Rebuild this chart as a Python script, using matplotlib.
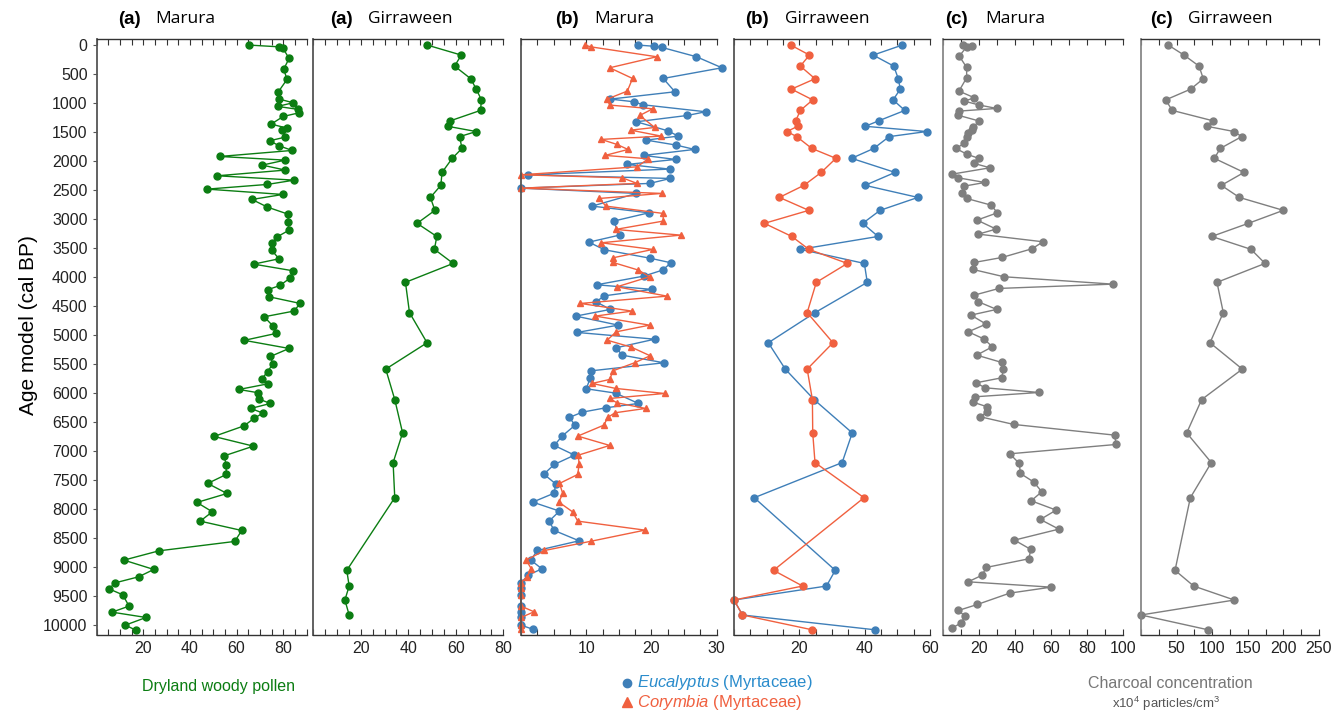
import matplotlib
matplotlib.use("Agg")
import matplotlib.pyplot as plt
from matplotlib.lines import Line2D

plt.rcParams['font.family'] = ['Liberation Sans', 'DejaVu Sans']
plt.rcParams['mathtext.fontset'] = 'custom'
plt.rcParams['mathtext.it'] = 'Liberation Sans:italic'
plt.rcParams['mathtext.rm'] = 'Liberation Sans'

# ---- data (age in cal BP) ----
# (a) Marura dryland woody pollen
mar_pollen_age = [0, 30, 50, 230, 414, 592, 810, 931, 994, 1057, 1109, 1167, 1230, 1362, 1431, 1466,
                  1586, 1649, 1736, 1816, 1920, 1983, 2069, 2155, 2253, 2328, 2402, 2483, 2575, 2661,
                  2793, 2914, 3046, 3195, 3310, 3408, 3540, 3684, 3776, 3891, 4017, 4144, 4218, 4339,
                  4454, 4586, 4684, 4839, 4971, 5090, 5230, 5368, 5494, 5632, 5753, 5839, 5937, 5994,
                  6103, 6178, 6264, 6345, 6431, 6564, 6747, 6914, 7081, 7236, 7402, 7557, 7730, 7885,
                  8046, 8207, 8368, 8557, 8719, 8879, 9040, 9167, 9270, 9374, 9477, 9672, 9776, 9868,
                  10000, 10086]
mar_pollen = [65.5, 78.3, 79.8, 82.5, 80.2, 81.6, 77.8, 78.3, 84.2, 77.6, 86.5, 86.8, 80.0, 74.8, 81.6,
              79.6, 80.9, 74.2, 78.2, 83.8, 52.8, 80.8, 71.0, 80.9, 51.7, 84.7, 73.2, 47.4, 79.8, 66.6,
              73.2, 82.0, 82.2, 82.3, 77.2, 75.3, 75.1, 78.2, 67.3, 84.2, 82.9, 78.6, 73.3, 73.9, 87.3,
              84.5, 71.8, 75.5, 76.9, 63.3, 82.5, 74.5, 75.5, 73.3, 70.8, 73.5, 61.0, 69.3, 69.6, 74.5,
              66.1, 71.3, 67.6, 63.2, 50.3, 67.2, 54.7, 55.5, 55.6, 47.6, 55.9, 43.0, 49.6, 44.4, 62.2,
              59.2, 26.7, 11.7, 24.5, 18.0, 8.0, 5.3, 11.2, 13.9, 6.6, 21.2, 12.3, 16.8]

# Girraween sample ages (shared by the three Girraween panels)
gir_age = [0, 172, 362, 580, 759, 945, 1126, 1305, 1400, 1490, 1578, 1781, 1952, 2195, 2418, 2626,
           2849, 3073, 3299, 3521, 3764, 4090, 4612, 5132, 5586, 6111, 6686, 7198, 7803, 9055, 9326,
           9567, 9825, 10080]
gir_pollen = [48.0, 62.3, 59.5, 66.3, 68.6, 70.8, 70.4, 57.7, 56.6, 68.6, 61.6, 62.6, 58.5, 54.2, 53.7,
              49.3, 51.2, 43.7, 52.0, 51.0, 58.9, 38.8, 40.5, 47.9, 30.5, 34.3, 37.6, 33.6, 34.3, 14.1,
              15.1, 13.3, 15.1]

# (b) Marura Eucalyptus / Corymbia
mar_euc_age = [0, 20, 40, 201, 391, 575, 805, 931, 977, 1029, 1149, 1213, 1322, 1477, 1569, 1638, 1724,
               1799, 1902, 1971, 2057, 2138, 2236, 2299, 2385, 2466, 2557, 2776, 2891, 3034, 3276, 3397,
               3529, 3672, 3753, 3879, 3983, 4132, 4212, 4322, 4425, 4557, 4672, 4828, 4954, 5070, 5218,
               5345, 5477, 5615, 5747, 5925, 6000, 6178, 6253, 6328, 6420, 6552, 6741, 6902, 7069, 7230,
               7397, 7563, 7724, 7879, 8034, 8207, 8368, 8546, 8713, 8879, 9029, 9138, 9270, 9368, 9483,
               9672, 9770, 9868, 10000, 10074]
mar_euc = [18.0, 20.4, 21.6, 26.9, 30.8, 21.8, 23.6, 13.7, 17.3, 18.7, 28.3, 25.5, 17.7, 22.5, 24.1, 19.2,
           23.8, 26.6, 18.8, 23.7, 16.3, 22.8, 1.0, 22.9, 19.7, 0.0, 17.7, 10.9, 19.6, 14.2, 15.1, 10.4,
           12.8, 19.7, 23.0, 21.7, 18.8, 11.6, 20.1, 12.8, 11.5, 13.7, 8.4, 14.9, 8.6, 20.5, 14.6, 15.5,
           21.9, 10.8, 10.6, 10.0, 14.5, 18.0, 13.0, 9.4, 7.4, 8.3, 6.3, 5.1, 8.2, 5.1, 3.5, 5.3, 5.1,
           1.8, 5.9, 4.3, 5.1, 8.9, 2.5, 1.5, 3.2, 1.1, 0, 0, 0, 0, 0, 0, 0, 1.9]
mar_cor_age = [0, 30, 201, 391, 575, 793, 931, 1034, 1098, 1213, 1420, 1466, 1569, 1626, 1712, 1799,
               1902, 1960, 2098, 2236, 2287, 2385, 2466, 2557, 2644, 2776, 2902, 3034, 3178, 3276, 3408,
               3523, 3667, 3747, 3879, 3994, 4167, 4328, 4454, 4586, 4672, 4828, 4943, 5087, 5207, 5356,
               5477, 5615, 5764, 5833, 5919, 6006, 6092, 6167, 6264, 6339, 6420, 6552, 6741, 6902, 7069,
               7230, 7402, 7557, 7730, 7879, 8046, 8207, 8362, 8552, 8713, 8879, 9034, 9167, 9270, 9368,
               9483, 9672, 9770, 9868, 10000, 10074]
mar_cor = [9.8, 10.7, 20.8, 13.6, 17.1, 16.3, 13.2, 13.6, 20.2, 18.2, 20.5, 16.8, 21.5, 12.3, 14.7, 16.4,
           12.9, 19.5, 17.8, 0.0, 15.5, 17.8, 0.0, 21.6, 12.0, 13.0, 21.8, 21.8, 14.5, 24.5, 12.3, 20.2,
           14.1, 14.1, 18.0, 19.7, 14.7, 22.4, 9.1, 17.0, 11.4, 19.7, 14.6, 13.2, 16.9, 19.8, 17.4, 14.1,
           13.6, 10.9, 14.5, 22.0, 13.6, 14.7, 19.1, 14.4, 13.3, 12.7, 8.7, 13.6, 8.8, 8.9, 8.7, 5.9, 6.4,
           5.8, 7.9, 8.7, 19.0, 10.8, 3.6, 0.8, 1.6, 0.9, 0, 0, 0, 0, 2.0, 0, 0, 0]

# (b) Girraween Eucalyptus / Corymbia
gir_euc = [51.5, 42.6, 48.9, 50.3, 50.9, 48.7, 52.3, 44.3, 40.2, 59.0, 47.5, 42.8, 36.0, 49.3, 40.1, 56.3,
           44.7, 39.4, 44.1, 20.3, 39.9, 40.8, 24.8, 10.5, 15.7, 24.5, 36.2, 33.1, 6.2, 31.0, 28.3, 0.0,
           2.6, 43.1]
gir_cor = [17.4, 23.1, 20.3, 24.8, 17.6, 24.1, 20.3, 18.9, 19.5, 16.2, 19.2, 23.8, 31.2, 26.7, 21.4, 13.9,
           22.9, 9.3, 17.7, 22.9, 34.7, 25.2, 22.4, 30.3, 22.4, 24.0, 24.1, 24.8, 39.8, 12.1, 21.0, 0.0,
           2.6, 23.9]

# (c) charcoal concentration (x10^4 particles/cm3)
mar_char_age = [0, 15, 30, 190, 385, 563, 793, 908, 966, 1034, 1092, 1138, 1207, 1310, 1408, 1466, 1523,
                1580, 1695, 1781, 1885, 1954, 2040, 2115, 2224, 2287, 2368, 2431, 2557, 2644, 2759, 2891,
                3017, 3172, 3259, 3391, 3511, 3661, 3747, 3868, 3994, 4121, 4195, 4310, 4425, 4557, 4655,
                4810, 4943, 5066, 5201, 5345, 5471, 5592, 5736, 5822, 5908, 5989, 6063, 6155, 6236, 6322,
                6408, 6540, 6724, 6885, 7046, 7213, 7385, 7534, 7701, 7856, 8017, 8178, 8345, 8534, 8695,
                8856, 9006, 9138, 9253, 9345, 9448, 9644, 9747, 9845, 9960, 10052]
mar_char = [11, 16, 13, 8.9, 13.0, 13.0, 8.7, 17.3, 11.7, 20.1, 29.7, 8.7, 8.0, 20.1, 16.7, 15.8, 13.9,
            13.0, 11.7, 6.9, 13.4, 19.9, 17.1, 26.0, 5.0, 8.0, 23.2, 11.7, 10.4, 13.0, 26.6, 30.1, 18.8,
            29.4, 19.5, 55.5, 49.4, 32.7, 17.3, 16.5, 33.8, 94.4, 31.0, 17.3, 19.5, 29.7, 15.4, 23.8,
            13.9, 22.6, 27.3, 18.6, 32.5, 33.4, 32.5, 18.2, 23.2, 53.3, 17.7, 16.4, 24.5, 24.5, 20.6,
            39.2, 95.3, 96.2, 37.0, 42.3, 42.9, 50.4, 54.8, 48.9, 62.8, 54.0, 64.3, 39.6, 48.7, 47.6,
            23.8, 21.7, 13.8, 60.0, 37.0, 18.9, 8.4, 12.1, 10.0, 4.8]
gir_char = [38.4, 60.4, 81.5, 87.5, 69.8, 34.6, 44.0, 101.1, 92.7, 130.6, 141.4, 111.4, 103.0, 144.7, 112.8,
            138.1, 199.9, 150.7, 99.3, 154.5, 174.2, 106.7, 115.6, 96.9, 142.3, 85.2, 64.2, 98.8, 69.3,
            47.8, 74.0, 131.1, 0.0, 94.1]

age_ticks = list(range(0, 10001, 500))

green = '#0b7d12'
blue = '#3f7fb8'
orange = '#f0603f'
grey = '#7f7f7f'

W, H = 1343, 712
fig = plt.figure(figsize=(W / 100, H / 100), dpi=100)

y_top, y_bot = 39.3, 635.0


def make_ax(x0, x1, xmax, tick_step, labels, spine_col):
    ax = fig.add_axes([x0 / W, 1 - y_bot / H, (x1 - x0) / W, (y_bot - y_top) / H])
    ax.set_xlim(0, xmax)
    ax.set_ylim(10170, -100)
    ax.spines['right'].set_visible(False)
    ax.spines['left'].set_color(spine_col)
    ax.spines['left'].set_linewidth(1.3)
    for s in ('top', 'bottom'):
        ax.spines[s].set_color('#333333')
        ax.spines[s].set_linewidth(1.0)
    n = int(round(xmax / tick_step))
    ticks = [i * tick_step for i in range(n + 1)]
    ax.set_xticks(ticks)
    ax.set_xticklabels([('%g' % t) if t in labels else '' for t in ticks])
    ax.tick_params(axis='x', top=True, bottom=True, direction='in', length=4, width=0.8,
                   labelsize=11.5, colors='#333333', labelcolor='#222222', pad=4)
    ax.set_yticks(age_ticks)
    ax.tick_params(axis='y', left=False, labelleft=False)
    ax.patch.set_alpha(0)
    return ax


mk = dict(markersize=5, linewidth=1.0, clip_on=False)

# (a) Marura
ax1 = make_ax(96.6, 306.6, 89, 5, [20, 40, 60, 80], '#555555')
ax1.plot(mar_pollen, mar_pollen_age, '-o', color=green, **mk)
ax1.tick_params(axis='y', left=True, labelleft=True, direction='out', length=3,
                labelsize=11.5, colors='#555555', labelcolor='#222222')

# (a) Girraween
ax2 = make_ax(313.3, 503.3, 80, 5, [20, 40, 60, 80], '#555555')
ax2.plot(gir_pollen, gir_age[:len(gir_pollen)], '-o', color=green, **mk)

# (b) Marura
ax3 = make_ax(521, 716.7, 30, 2.5, [10, 20, 30], '#555555')
ax3.plot(mar_euc, mar_euc_age, '-o', color=blue, **mk)
ax3.plot(mar_cor, mar_cor_age, '-^', color=orange, **mk)

# (b) Girraween
ax4 = make_ax(734, 930, 60, 5, [20, 40, 60], '#555555')
ax4.plot(gir_euc, gir_age, '-o', color=blue, **mk)
ax4.plot(gir_cor, gir_age, '-o', color=orange, **mk)

# (c) Marura
ax5 = make_ax(943.3, 1123, 100, 10, [20, 40, 60, 80, 100], '#888888')
ax5.plot(mar_char, mar_char_age, '-o', color=grey, **mk)

# (c) Girraween
ax6 = make_ax(1141, 1319, 250, 25, [50, 100, 150, 200, 250], '#888888')
ax6.plot(gir_char, gir_age, '-o', color=grey, **mk)

# panel titles
titles = [(118, '(a)', 155, 'Marura'), (330, '(a)', 368, 'Girraween'),
          (555, '(b)', 594, 'Marura'), (745, '(b)', 785, 'Girraween'),
          (945, '(c)', 985, 'Marura'), (1150, '(c)', 1188, 'Girraween')]
for xa, lab, xn, name in titles:
    fig.text(xa / W, 1 - 19 / H, lab, fontsize=13.5, fontweight='bold', ha='left', va='center')
    fig.text(xn / W, 1 - 19 / H, name, fontsize=12.5, ha='left', va='center', family='Open Sans')

fig.text(28 / W, 1 - 325 / H, 'Age model (cal BP)', rotation=90, fontsize=15,
         ha='center', va='center')

# bottom labels
fig.text(218 / W, 1 - 687 / H, 'Dryland woody pollen', color=green, fontsize=11.5,
         ha='center', va='center')

fig.add_artist(Line2D([627 / W], [1 - 683 / H], marker='o', color=blue, markersize=6,
                      transform=fig.transFigure))
fig.text(637 / W, 1 - 683 / H, r'$\it{Eucalyptus}$ (Myrtaceae)', color='#2a8ccc', fontsize=12,
         ha='left', va='center')
fig.add_artist(Line2D([627 / W], [1 - 702 / H], marker='^', color=orange, markersize=6.5,
                      transform=fig.transFigure))
fig.text(637 / W, 1 - 702 / H, r'$\it{Corymbia}$ (Myrtaceae)', color=orange, fontsize=12,
         ha='left', va='center')

fig.text(1170 / W, 1 - 684 / H, 'Charcoal concentration', color='#777777', fontsize=11.5,
         ha='center', va='center')
fig.text(1166 / W, 1 - 704 / H, r'x10$^4$ particles/cm$^3$', color='#555555', fontsize=9.5,
         ha='center', va='center')

fig.savefig('out.png', dpi=100)
